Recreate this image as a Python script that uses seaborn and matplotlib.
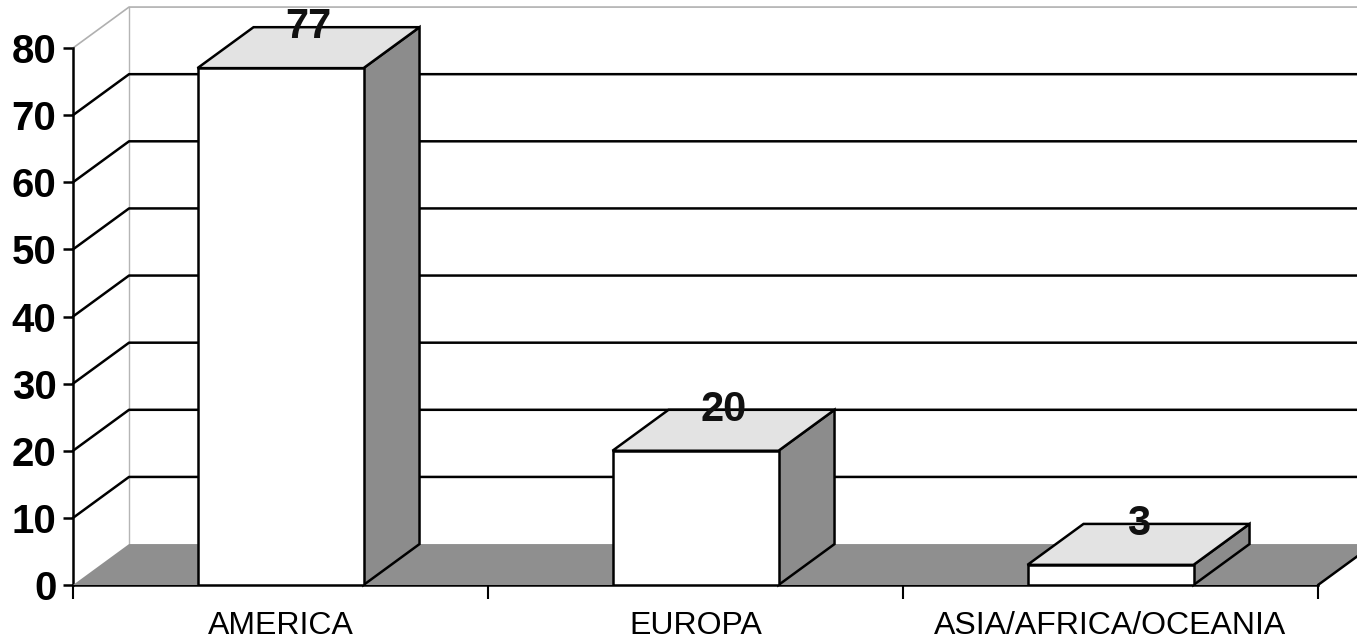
import pandas as pd
import matplotlib
matplotlib.use("Agg")
import matplotlib.pyplot as plt
from matplotlib.patches import Polygon
import seaborn as sns

REGIONS = ["AMERICA", "EUROPA", "ASIA/AFRICA/OCEANIA"]
PERCENT = [77, 20, 3]
Y_TICKS = [0, 10, 20, 30, 40, 50, 60, 70, 80]

# 3D look: depth offset of the walls / bar boxes, in data units
DEPTH_X = 0.135
DEPTH_Y = 6.1
FLOOR = "#8f8f8f"
SIDE = "#8c8c8c"
TOP = "#e3e3e3"
LW = 1.8

sns.set_theme(style="white")
plt.rcParams["font.family"] = ["Liberation Sans", "DejaVu Sans"]

fig = plt.figure(figsize=(13.57, 6.42), dpi=100)
ax = fig.add_axes([73 / 1357, 57 / 642, 1245 / 1357, 537 / 642])

df = pd.DataFrame({"region": REGIONS, "value": PERCENT})
sns.barplot(data=df, x="region", y="value", color="white", saturation=1,
            width=0.4, edgecolor="black", linewidth=LW, ax=ax, zorder=5)
bars = list(ax.patches)

xl, xr = -0.5, len(REGIONS) - 0.5
ymax = Y_TICKS[-1]
far = xr + DEPTH_X + 0.3
ax.set_xlim(xl, xr)
ax.set_ylim(0, ymax)

# back wall + side wall edges
ax.plot([xl + DEPTH_X, xl + DEPTH_X], [DEPTH_Y, ymax + DEPTH_Y], color="#b5b5b5",
        lw=1, clip_on=False, zorder=1)
ax.plot([xl, xl + DEPTH_X, far], [ymax, ymax + DEPTH_Y, ymax + DEPTH_Y],
        color="#b0b0b0", lw=1.2, clip_on=False, zorder=1)

# gridlines wrapping side wall and back wall
for v in Y_TICKS[1:-1]:
    ax.plot([xl, xl + DEPTH_X, far], [v, v + DEPTH_Y, v + DEPTH_Y],
            color="black", lw=LW, clip_on=False, zorder=2)

# floor
ax.add_patch(Polygon([(xl, 0), (xr, 0), (xr + DEPTH_X, DEPTH_Y), (xl + DEPTH_X, DEPTH_Y)],
                     closed=True, facecolor=FLOOR, edgecolor="none", clip_on=False, zorder=3))
ax.plot([xr, xr + DEPTH_X], [0, DEPTH_Y], color="black", lw=LW, clip_on=False, zorder=3)

# bar side and top faces + value labels
for p in bars:
    x0, w, h = p.get_x(), p.get_width(), p.get_height()
    side = [(x0 + w, 0), (x0 + w + DEPTH_X, DEPTH_Y),
            (x0 + w + DEPTH_X, h + DEPTH_Y), (x0 + w, h)]
    top = [(x0, h), (x0 + w, h), (x0 + w + DEPTH_X, h + DEPTH_Y), (x0 + DEPTH_X, h + DEPTH_Y)]
    ax.add_patch(Polygon(side, closed=True, facecolor=SIDE, edgecolor="black",
                         lw=LW, clip_on=False, zorder=4))
    ax.add_patch(Polygon(top, closed=True, facecolor=TOP, edgecolor="black",
                         lw=LW, clip_on=False, zorder=4))
    ax.text(x0 + w / 2 + DEPTH_X / 2, h + DEPTH_Y, f"{h:.0f}", ha="center", va="center",
            fontsize=30, fontweight="bold", color="#111111", zorder=6, clip_on=False)

# axes
sns.despine(ax=ax, top=True, right=True)
for s in ["left", "bottom"]:
    ax.spines[s].set_color("black")
    ax.spines[s].set_linewidth(LW)
ax.set_xlabel("")
ax.set_ylabel("")
ax.set_yticks(Y_TICKS)
ax.tick_params(axis="y", left=True, direction="out", length=7, width=LW,
               labelsize=29, pad=5, colors="black")
for lbl in ax.get_yticklabels():
    lbl.set_fontweight("bold")
ax.set_xticks(range(len(REGIONS)))
ax.set_xticklabels(REGIONS)
ax.tick_params(axis="x", which="major", bottom=True, length=0, labelsize=23, pad=19,
               colors="black")
ax.set_xticks([xl + i for i in range(len(REGIONS) + 1)], minor=True)
ax.tick_params(axis="x", which="minor", bottom=True, direction="out", length=10, width=1.5,
               color="black")

fig.savefig("out.png", dpi=100)
